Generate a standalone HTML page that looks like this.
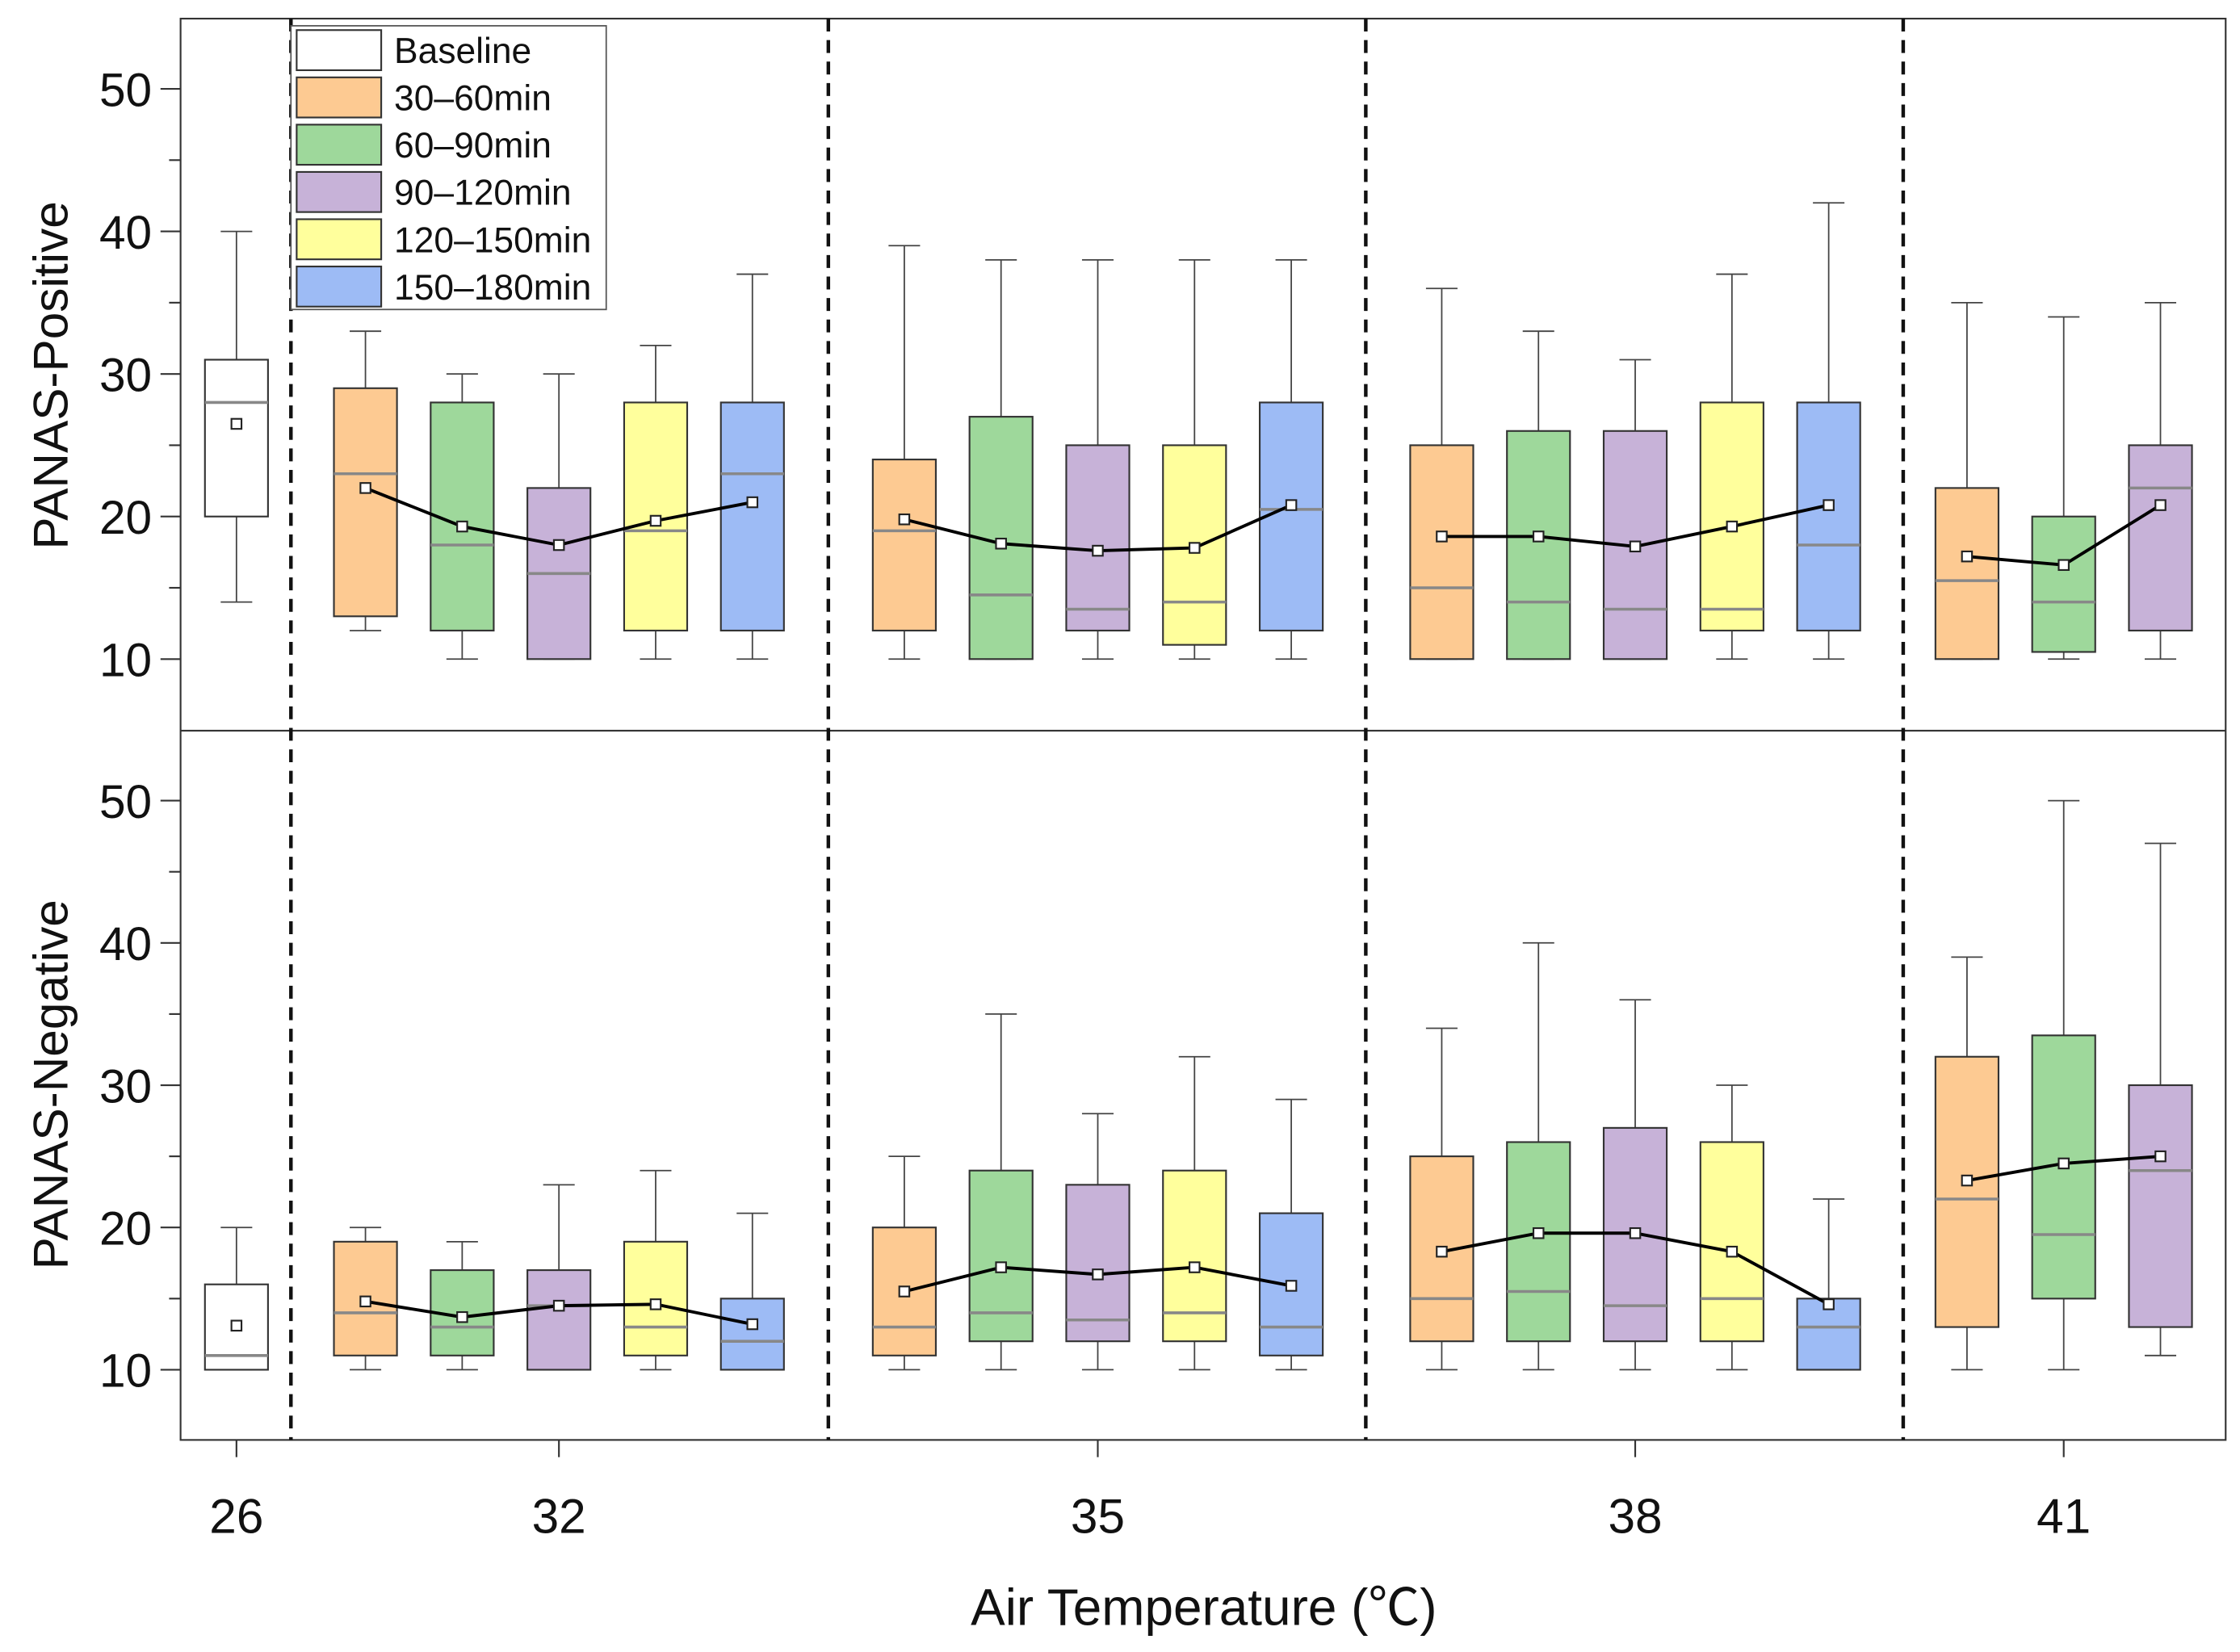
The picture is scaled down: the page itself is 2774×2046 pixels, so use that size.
<!DOCTYPE html>
<html><head><meta charset="utf-8"><style>
html,body{margin:0;padding:0;background:#fff;}
svg{display:block;}
text{font-family:"Liberation Sans","Noto Sans CJK SC",sans-serif;fill:#111;}
</style></head><body>
<svg id="chart" width="2774" height="2046" viewBox="0 0 1563 1153" preserveAspectRatio="none" xmlns="http://www.w3.org/2000/svg">
</svg>
<script>
// Data: [whiskerLow, q1, median, q3, whiskerHigh, mean]
const groupLabels = ["26","32","35","38","41"];
const seriesNames = ["Baseline","30–60min","60–90min","90–120min","120–150min","150–180min"];
const seriesColors = ["#ffffff","#fdca92","#9ed89b","#c7b2d8","#ffff9c","#9dbbf5"];
const posBaseline = [[14,20,28,31,40,26.5]];
const pos32 = [[12,13,23,29,33,22],[10,12,18,28,30,19.3],[10,10,16,22,30,18],[10,12,19,28,32,19.7],[10,12,23,28,37,21]];
const pos35 = [[10,12,19,24,39,19.8],[10,10,14.5,27,38,18.1],[10,12,13.5,25,38,17.6],[10,11,14,25,38,17.8],[10,12,20.5,28,38,20.8]];
const pos38 = [[10,10,15,25,36,18.6],[10,10,14,26,33,18.6],[10,10,13.5,26,31,17.9],[10,12,13.5,28,37,19.3],[10,12,18,28,42,20.8]];
const pos41 = [[10,10,15.5,22,35,17.2],[10,10.5,14,20,34,16.6],[10,12,22,25,35,20.8]];
const negBaseline = [[10,10,11,16,20,13.1]];
const neg32 = [[10,11,14,19,20,14.8],[10,11,13,17,19,13.7],[10,10,14.5,17,23,14.5],[10,11,13,19,24,14.6],[10,10,12,15,21,13.2]];
const neg35 = [[10,11,13,20,25,15.5],[10,12,14,24,35,17.2],[10,12,13.5,23,28,16.7],[10,12,14,24,32,17.2],[10,11,13,21,29,15.9]];
const neg38 = [[10,12,15,25,34,18.3],[10,12,15.5,26,40,19.6],[10,12,14.5,27,36,19.6],[10,12,15,26,30,18.3],[10,10,13,15,22,14.6]];
const neg41 = [[10,13,22,32,39,23.3],[10,15,19.5,33.5,50,24.5],[11,13,24,30,47,25]];
const yTicks = [10,20,30,40,50];
const yMinor = [15,25,35,45];

const NS="http://www.w3.org/2000/svg";
const svg=document.getElementById('chart');
function el(tag,attrs,parent,txt){const e=document.createElementNS(NS,tag);for(const k in attrs)e.setAttribute(k,attrs[k]);if(txt!==undefined)e.textContent=txt;(parent||svg).appendChild(e);return e;}
const L=126,R=1553,T=13,M=510,B=1005;
const groupCenters=[165,390,766,1141,1440];
const spacing=67.5, bw=44;
function yTop(v){return 460-(v-10)*9.95;}
function yBot(v){return 956-(v-10)*9.93;}
function xBox(g,i,n){return groupCenters[g]+(i-(n-1)/2)*spacing;}

let f=el('rect',{x:L,y:T,width:R-L,height:B-T,fill:'none',stroke:'#333','stroke-width':1.2});

let md=el('line',{x1:L,x2:R,y1:M,y2:M,stroke:'#333','stroke-width':1.2});

[203,578,953,1328].forEach(x=>{const d=el('line',{x1:x,x2:x,y1:T,y2:B,stroke:'#111','stroke-width':2.5,'stroke-dasharray':'9,6'});
});

function drawPanel(yf,groups,name,titleY){
  yTicks.forEach(v=>{
    const t=el('line',{x1:L-14,x2:L,y1:yf(v),y2:yf(v),stroke:'#333','stroke-width':1.2});
    
    const lb=el('text',{x:L-20,y:yf(v)+12,'text-anchor':'end','font-size':33},null,String(v));
    
  });
  yMinor.forEach(v=>{const t=el('line',{x1:L-8,x2:L,y1:yf(v),y2:yf(v),stroke:'#333','stroke-width':1.2});
    });
  const tt=el('text',{x:0,y:0,transform:`translate(47,${titleY}) rotate(-90)`,'text-anchor':'middle','font-size':34},null,name==='positive'?'PANAS-Positive':'PANAS-Negative');
  
  groups.forEach((grp,g)=>{
    const n=grp.length;const pts=[];
    grp.forEach((d,i)=>{
      const cx=xBox(g,i,n);const ci=g===0?0:i+1;
      const gr=el('g',{});
      el('line',{x1:cx,x2:cx,y1:yf(d[0]),y2:yf(d[1]),stroke:'#444','stroke-width':1},gr);
      el('line',{x1:cx,x2:cx,y1:yf(d[3]),y2:yf(d[4]),stroke:'#444','stroke-width':1},gr);
      el('line',{x1:cx-11,x2:cx+11,y1:yf(d[0]),y2:yf(d[0]),stroke:'#444','stroke-width':1},gr);
      el('line',{x1:cx-11,x2:cx+11,y1:yf(d[4]),y2:yf(d[4]),stroke:'#444','stroke-width':1},gr);
      el('rect',{x:cx-bw/2,y:yf(d[3]),width:bw,height:Math.max(yf(d[1])-yf(d[3]),0.5),fill:seriesColors[ci],stroke:'#333','stroke-width':1.2},gr);
      el('line',{x1:cx-bw/2,x2:cx+bw/2,y1:yf(d[2]),y2:yf(d[2]),stroke:'#888','stroke-width':2},gr);
      pts.push([cx,yf(d[5])]);
    });
    if(n>1){const pl=el('polyline',{points:pts.map(p=>p.join(',')).join(' '),fill:'none',stroke:'#000','stroke-width':2.2});
      }
    pts.forEach(p=>{const m=el('rect',{x:p[0]-3.5,y:p[1]-3.5,width:7,height:7,fill:'#fff',stroke:'#222','stroke-width':1.2});
      });
  });
}
drawPanel(yTop,[posBaseline,pos32,pos35,pos38,pos41],'positive',262);
drawPanel(yBot,[negBaseline,neg32,neg35,neg38,neg41],'negative',757);

groupLabels.forEach((lab,g)=>{
  const x=groupCenters[g];
  const t=el('line',{x1:x,x2:x,y1:B,y2:B+12,stroke:'#333','stroke-width':1.2});
  
  const l=el('text',{x:x,y:1070,'text-anchor':'middle','font-size':34},null,lab);
  
});
const xt=el('text',{x:840,y:1134,'text-anchor':'middle','font-size':36},null,'Air Temperature (℃)');


const lg=el('g',{});
el('rect',{x:203,y:18,width:220,height:198,fill:'#fff',stroke:'#555','stroke-width':1},lg);
seriesNames.forEach((s,i)=>{
  const y=21+i*33;
  const e=el('g',{},lg);
  el('rect',{x:207,y:y,width:59,height:28,fill:seriesColors[i],stroke:'#333','stroke-width':1.2},e);
  el('text',{x:275,y:y+23,'font-size':25},e,s);
});
</script>
</body></html>
